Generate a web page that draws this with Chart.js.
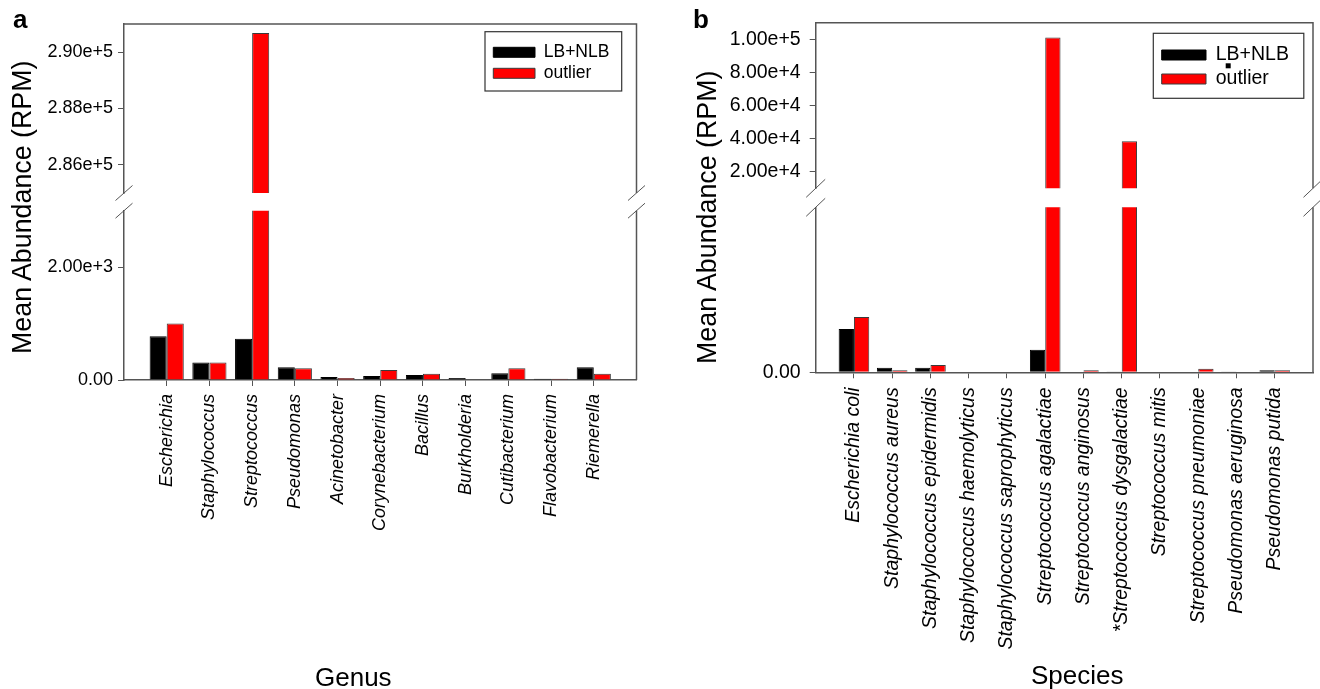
<!DOCTYPE html>
<html>
<head>
<meta charset="utf-8">
<script src="https://cdn.jsdelivr.net/npm/chart.js@4.4.1/dist/chart.umd.min.js"></script>
<style>
html, body { margin: 0; padding: 0; background: #ffffff; width: 1320px; height: 689px; overflow: hidden; position: relative; font-family: "Liberation Sans", Arial, sans-serif; }
canvas { position: absolute; }
.t { position: absolute; color: #000; white-space: nowrap; line-height: 1; }
.yt { transform: rotate(-90deg); transform-origin: 0 0; }
</style>
</head>
<body>
<canvas id="aTop" width="660" height="210" style="left:0px;top:0px"></canvas>
<canvas id="aBot" width="660" height="499" style="left:0px;top:190px"></canvas>
<canvas id="bTop" width="660" height="210" style="left:660px;top:0px"></canvas>
<canvas id="bBot" width="660" height="499" style="left:660px;top:190px"></canvas>

<div class="t" style="left:13px;top:6px;font-size:26px;font-weight:bold;">a</div>
<div class="t" style="left:693px;top:6px;font-size:26px;font-weight:bold;">b</div>
<div class="t yt" style="left:9px;top:354px;font-size:26.8px;">Mean Abundance (RPM)</div>
<div class="t yt" style="left:694px;top:363.5px;font-size:26.8px;">Mean Abundance (RPM)</div>
<div class="t" style="left:315px;top:663.7px;font-size:26px;">Genus</div>
<div class="t" style="left:1031px;top:661.5px;font-size:26px;">Species</div>

<script>
// ---------------- data ----------------
const seriesNames = ['LB+NLB', 'outlier'];

const genusLabels = ['Escherichia', 'Staphylococcus', 'Streptococcus', 'Pseudomonas', 'Acinetobacter',
  'Corynebacterium', 'Bacillus', 'Burkholderia', 'Cutibacterium', 'Flavobacterium', 'Riemerella'];
const genusLBNLB   = [777, 312, 729, 224, 55, 70, 88, 35, 118, 20, 224];
const genusOutlier = [1000, 312, 290680, 206, 35, 176, 112, 0, 206, 20, 112];

const speciesLabels = ['Escherichia coli', 'Staphylococcus aureus', 'Staphylococcus epidermidis',
  'Staphylococcus haemolyticus', 'Staphylococcus saprophyticus', 'Streptococcus agalactiae',
  'Streptococcus anginosus', '*Streptococcus dysgalactiae', 'Streptococcus mitis',
  'Streptococcus pneumoniae', 'Pseudomonas aeruginosa', 'Pseudomonas putida'];
const speciesLBNLB   = [787, 84, 84, 0, 0, 411, 0, 15, 8, 0, 15, 36];
const speciesOutlier = [1005, 36, 133, 0, 0, 101000, 36, 38400, 8, 66, 0, 36];

// axis ranges (broken axes) and tick values
const genusTopRange = [285000, 291000];
const genusBottomRange = [0, 3000];
const speciesTopRange = [10000, 110000];
const speciesBottomRange = [0, 3000];
const genusTopTicks = [286000, 288000, 290000];
const genusBottomTicks = [0, 2000];
const speciesTopTicks = [20000, 40000, 60000, 80000, 100000];
const speciesBottomTicks = [0];

// ---------------- style ----------------
const FAMILY = "'Liberation Sans', Arial, sans-serif";
const FRAME = '#555555';
Chart.defaults.font.family = FAMILY;
Chart.defaults.color = '#000000';

const fmt = v => (v === 0 ? '0.00' : Number(v).toExponential(2));

const breakFrame = {
  id: 'breakFrame',
  afterLayout(chart, args, o) {
    if (!o || !o.legendAt) return;
    const lg = chart.legend;
    const pad = lg.options.labels.padding;
    lg.left = o.legendAt.x - pad;
    lg.top = o.legendAt.y - pad;
    lg.right = o.box.x + o.box.w;
    lg.bottom = o.box.y + o.box.h;
    lg.width = lg.right - lg.left;
    lg.height = lg.bottom - lg.top;
  },
  afterDraw(chart, args, o) {
    const ctx = chart.ctx, a = chart.chartArea;
    ctx.save();
    ctx.strokeStyle = FRAME;
    ctx.lineWidth = 1.5;
    ctx.beginPath();
    if (o.part === 'top') {
      ctx.moveTo(a.left, a.top); ctx.lineTo(a.right, a.top); ctx.lineTo(a.right, a.bottom);
    } else {
      ctx.moveTo(a.right, a.top); ctx.lineTo(a.right, a.bottom);
    }
    ctx.stroke();
    const y = o.part === 'top' ? a.bottom : a.top;
    ctx.lineWidth = 1;
    for (const x of [a.left, a.right]) {
      ctx.beginPath();
      ctx.moveTo(x - o.dx, y + o.dy);
      ctx.lineTo(x + o.dx, y - o.dy);
      ctx.stroke();
    }
    if (o.box) {
      ctx.strokeStyle = '#333333';
      ctx.lineWidth = 1.2;
      ctx.strokeRect(o.box.x, o.box.y, o.box.w, o.box.h);
    }
    if (o.dot) {
      ctx.fillStyle = '#000000';
      ctx.fillRect(o.dot.x, o.dot.y, o.dot.s, o.dot.s);
    }
    ctx.restore();
  }
};

function buildChart(id, p) {
  const labels = ['', ...p.labels, ''];
  const n = labels.length;
  const padArr = arr => [null, ...arr, null];
  return new Chart(document.getElementById(id), {
    type: 'bar',
    data: {
      labels: labels,
      datasets: [
        { label: seriesNames[0], data: padArr(p.s1), backgroundColor: '#000000', borderColor: '#000000', borderWidth: 1, clip: 0 },
        { label: seriesNames[1], data: padArr(p.s2), backgroundColor: '#ff0000', borderColor: '#3a3a3a', borderWidth: 1, clip: 0 }
      ]
    },
    options: {
      responsive: false,
      animation: false,
      events: [],
      layout: { padding: p.padding },
      datasets: { bar: { categoryPercentage: 0.8, barPercentage: 1.0 } },
      plugins: {
        tooltip: { enabled: false },
        legend: p.legend ? {
          display: true, position: 'chartArea', align: 'start',
          labels: { boxWidth: p.legend.bw, boxHeight: 10, padding: p.legend.pad, color: '#000',
                    font: { size: p.legend.fs, family: FAMILY } }
        } : { display: false },
        breakFrame: p.frame
      },
      scales: {
        x: {
          display: p.showX,
          offset: false,
          grid: {
            display: true, drawOnChartArea: false, drawTicks: true, tickLength: 6, offset: false,
            color: c => (c.index === 0 || c.index === n - 1) ? 'rgba(0,0,0,0)' : FRAME
          },
          border: { display: true, color: FRAME, width: 1.5 },
          ticks: {
            autoSkip: false, maxRotation: 90, minRotation: 90, padding: p.xPad, color: '#000',
            font: { size: p.xfs, style: 'italic', family: FAMILY }
          },
          afterFit: s => { s.height = p.xHeight; s.paddingLeft = 0; s.paddingRight = 0; }
        },
        y: {
          min: p.range[0], max: p.range[1],
          grid: { display: true, drawOnChartArea: false, drawTicks: true, tickLength: 6, color: FRAME },
          border: { display: true, color: FRAME, width: 1.5 },
          ticks: { padding: p.yPad, color: '#000', font: { size: p.yfs, family: FAMILY }, callback: v => fmt(v) },
          afterBuildTicks: s => { s.ticks = p.ticks.map(v => ({ value: v })); },
          afterFit: s => { s.width = p.yWidth; s.paddingTop = 0; s.paddingBottom = 0; }
        }
      }
    },
    plugins: [breakFrame]
  });
}

// Panel a: Genus
buildChart('aTop', {
  labels: genusLabels, s1: genusLBNLB, s2: genusOutlier,
  range: genusTopRange, ticks: genusTopTicks,
  showX: false, xHeight: 0, xPad: 8, xfs: 18, yfs: 18, yPad: 5, yWidth: 124,
  padding: { left: 0, top: 24, right: 23.5, bottom: 17 },
  legend: { bw: 41.7, pad: 3.5, fs: 17.5 },
  frame: { part: 'top', dx: 8.5, dy: 7.5,
           legendAt: { x: 493.3, y: 43.55 }, box: { x: 485, y: 31.7, w: 136.7, h: 59.3 } }
});
buildChart('aBot', {
  labels: genusLabels, s1: genusLBNLB, s2: genusOutlier,
  range: genusBottomRange, ticks: genusBottomTicks,
  showX: true, xHeight: 309, xPad: 8, xfs: 18, yfs: 18, yPad: 5, yWidth: 124,
  padding: { left: 0, top: 20.7, right: 23.5, bottom: 0 },
  legend: null,
  frame: { part: 'bottom', dx: 8.5, dy: 7.5 }
});

// Panel b: Species
buildChart('bTop', {
  labels: speciesLabels, s1: speciesLBNLB, s2: speciesOutlier,
  range: speciesTopRange, ticks: speciesTopTicks,
  showX: false, xHeight: 0, xPad: 9, xfs: 19.5, yfs: 19.5, yPad: 9, yWidth: 155.7,
  padding: { left: 0, top: 22.7, right: 7, bottom: 21.7 },
  legend: { bw: 44.3, pad: 4.5, fs: 19.5 },
  frame: { part: 'top', dx: 9.5, dy: 9,
           legendAt: { x: 501.7, y: 45.25 }, box: { x: 493.3, y: 33.3, w: 150.5, h: 65 },
           dot: { x: 565.7, y: 63.3, s: 5 } }
});
buildChart('bBot', {
  labels: speciesLabels, s1: speciesLBNLB, s2: speciesOutlier,
  range: speciesBottomRange, ticks: speciesBottomTicks,
  showX: true, xHeight: 316.7, xPad: 9, xfs: 19.5, yfs: 19.5, yPad: 9, yWidth: 155.7,
  padding: { left: 0, top: 17.3, right: 7, bottom: 0 },
  legend: null,
  frame: { part: 'bottom', dx: 9.5, dy: 9 }
});
</script>
</body>
</html>
